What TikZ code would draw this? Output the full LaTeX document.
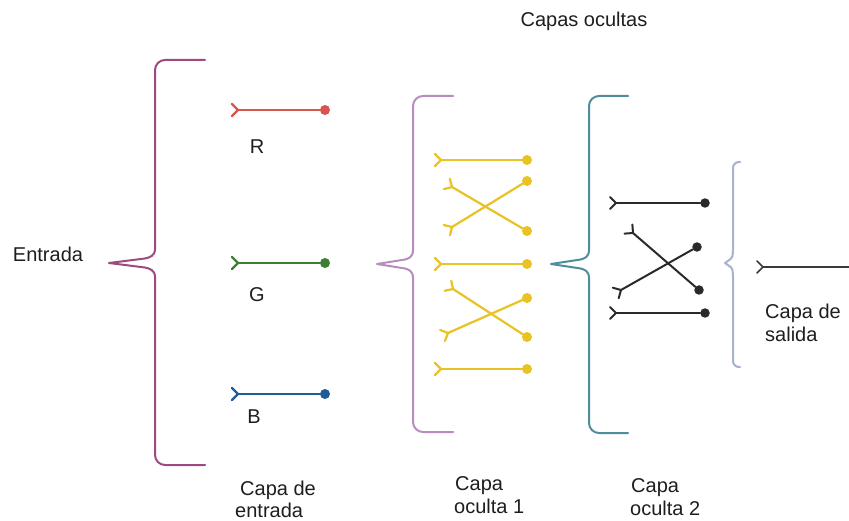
\documentclass[tikz,border=0pt]{standalone}
\usepackage{fontspec}
\setmainfont{Liberation Sans}
\usetikzlibrary{calc}

\definecolor{txt}{HTML}{1E1E1E}
\definecolor{braceIn}{HTML}{9C4A80}
\definecolor{braceHa}{HTML}{B98BC0}
\definecolor{braceHb}{HTML}{4F8D9D}
\definecolor{braceOut}{HTML}{A7B2CF}
\definecolor{nRed}{HTML}{D9534F}
\definecolor{nGreen}{HTML}{3F7F34}
\definecolor{nBlue}{HTML}{215C98}
\definecolor{nYellow}{HTML}{E9C323}
\definecolor{nBlack}{HTML}{2A2A2A}
\definecolor{nGrey}{HTML}{3A3A3A}

\tikzset{
  lbl/.style={font=\fontsize{20}{24}\selectfont, text=txt, inner sep=0pt},
  bracestroke/.style={line width=2pt, line join=round, line cap=round},
  axon/.style={line width=2.2pt, line cap=round, line join=round},
  soma/.style={circle, inner sep=0pt, minimum size=10pt},
}

% curly brace: colour, right end x, top y, spine x, tip x, tip y, bottom y, corner radius
\newcommand\curlybrace[8]{%
  \draw[bracestroke,#1]
    (#2,#3) -- ({#4+#8},#3)
    .. controls ({#4+0.45*#8},#3) and (#4,{#3+0.45*#8}) .. (#4,{#3+#8})
    -- (#4,{#6-14})
    .. controls (#4,{#6-7}) and ({#4-0.12*(#4-#5)},{#6-5.5}) .. ({#4-0.22*(#4-#5)},{#6-4.5})
    -- (#5,#6)
    -- ({#4-0.22*(#4-#5)},{#6+4.5})
    .. controls ({#4-0.12*(#4-#5)},{#6+5.5}) and (#4,{#6+7}) .. (#4,{#6+14})
    -- (#4,{#7-#8})
    .. controls (#4,{#7-0.45*#8}) and ({#4+0.45*#8},#7) .. ({#4+#8},#7)
    -- (#2,#7);}

% neuron: colour, dendrite name, terminal name, dendrite position, terminal position
\newcommand\neuron[5]{%
  \coordinate (#2) at #4;
  \node[soma, fill=#1] (#3) at #5 {};
  \draw[axon, #1] (#2) -- (#3);
  \draw[axon, #1] ($(#2)!8.5pt!135:(#3)$) -- (#2) -- ($(#2)!8.5pt!-135:(#3)$);}

\begin{document}
\begin{tikzpicture}[x=1pt, y=-1pt]
  \clip (0,0) rectangle (849,521);
  \fill[white] (0,0) rectangle (849,521);

  % braces
  \curlybrace{braceIn}{205}{60}{155}{109}{263}{465}{10}
  \curlybrace{braceHa}{453}{96}{413}{377}{264}{432}{10}
  \curlybrace{braceHb}{628}{96}{589}{551}{264}{433}{10}
  \curlybrace{braceOut}{740}{162}{733}{725}{263}{367}{6}

  % input layer
  \neuron{nRed}{rD}{rT}{(238,110)}{(325,110)}
  \neuron{nGreen}{gD}{gT}{(238,263)}{(325,263)}
  \neuron{nBlue}{bD}{bT}{(238,394)}{(325,394)}

  % hidden layer 1
  \neuron{nYellow}{h1aD}{h1aT}{(441,160)}{(527,160)}
  \neuron{nYellow}{h1bD}{h1bT}{(452,187)}{(527,231)}
  \neuron{nYellow}{h1cD}{h1cT}{(452,227)}{(527,181)}
  \neuron{nYellow}{h1dD}{h1dT}{(441,264)}{(527,264)}
  \neuron{nYellow}{h1eD}{h1eT}{(453,289)}{(527,337)}
  \neuron{nYellow}{h1fD}{h1fT}{(448,333)}{(527,298)}
  \neuron{nYellow}{h1gD}{h1gT}{(441,369)}{(527,369)}

  % hidden layer 2
  \begin{scope}[axon/.append style={line width=2pt}, soma/.append style={minimum size=9.5pt}]
    \neuron{nBlack}{h2aD}{h2aT}{(616,203)}{(705,203)}
    \neuron{nBlack}{h2bD}{h2bT}{(633,233)}{(699,290)}
    \neuron{nBlack}{h2cD}{h2cT}{(621,290)}{(697,247)}
    \neuron{nBlack}{h2dD}{h2dT}{(616,313)}{(705,313)}
  \end{scope}

  % output layer
  \begin{scope}[axon/.append style={line width=1.5pt}]
    \neuron{nGrey}{oD}{oT}{(763,267)}{(854,267)}
  \end{scope}

  % labels
  \node[lbl, anchor=base] (tHidden) at (584,27) {Capas ocultas};
  \node[lbl, anchor=base] (tIn) at (48,262) {Entrada};
  \node[lbl, anchor=base] (tR) at (257,154) {R};
  \node[lbl, anchor=base] (tG) at (257,302) {G};
  \node[lbl, anchor=base] (tB) at (254,423) {B};
  \node[lbl, anchor=base west] (tInA) at (240,495) {Capa de};
  \node[lbl, anchor=base west] (tInB) at (235,517) {entrada};
  \node[lbl, anchor=base west] (tH1a) at (455,490) {Capa};
  \node[lbl, anchor=base west] (tH1b) at (454,513) {oculta 1};
  \node[lbl, anchor=base west] (tH2a) at (631,492) {Capa};
  \node[lbl, anchor=base west] (tH2b) at (630,515) {oculta 2};
  \node[lbl, anchor=base west] (tOutA) at (765,319) {Capa de};
  \node[lbl, anchor=base west] (tOutB) at (765,342) {salida};
\end{tikzpicture}
\end{document}
